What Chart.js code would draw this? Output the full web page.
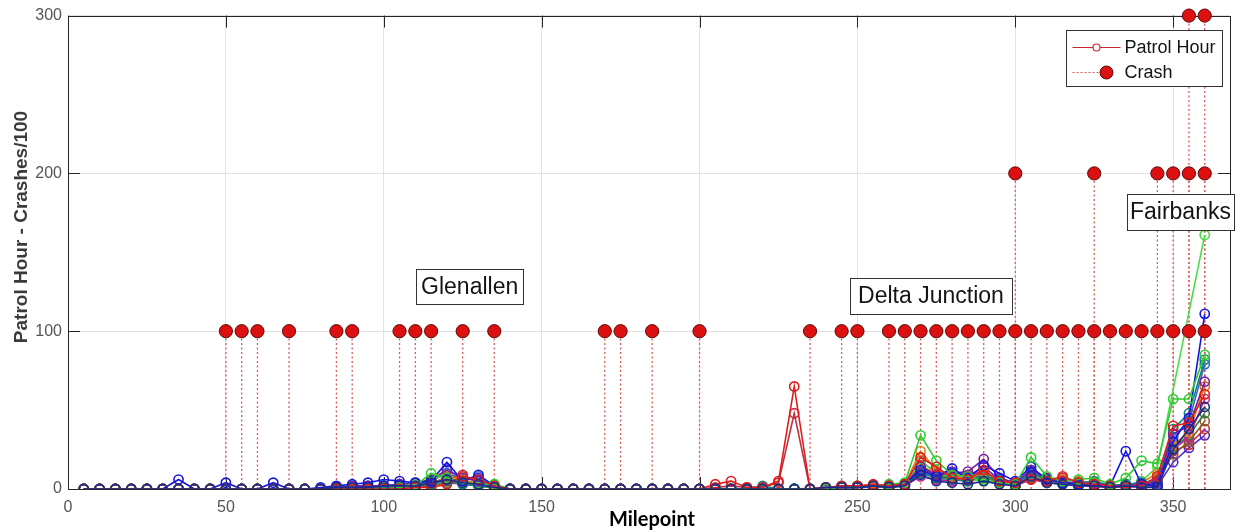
<!DOCTYPE html>
<html>
<head>
<meta charset="utf-8">
<script src="https://cdn.jsdelivr.net/npm/chart.js@4.4.1/dist/chart.umd.min.js"></script>
<style>
  html, body { margin: 0; padding: 0; background: #fff; }
  canvas { display: block; }
</style>
</head>
<body>
<canvas id="chart" width="1243" height="531"></canvas>
<script>
// Milepoints at which patrol hours were tallied
const milepoints = [5,10,15,20,25,30,35,40,45,50,55,60,65,70,75,80,85,90,95,100,105,110,115,120,
  125,130,135,140,145,150,155,160,165,170,175,180,185,190,195,200,205,210,215,220,225,230,235,240,
  245,250,255,260,265,270,275,280,285,290,295,300,305,310,315,320,325,330,335,340,345,350,355,360];

// Patrol hours per milepoint, one array per period
const patrolNavy = [0,0,0,0,0,0,0,0,0,0,0,0, 0,0,0,0,1,1,1,2,2,2,4,6, 4,3,1,0,0,0,0,0,0,0,0,0, 0,0,0,0,0,0,0,0,0,0,0,1, 1,1,2,1,2,9,5,4,3,5,3,2, 8,4,3,2,2,1,2,1,1,25,38,52];
const patrolRed = [0,0,0,0,0,0,0,0,0,0,0,0, 0,0,0,0,0,0,0,0,0,1,1,3, 8,6,2,0,0,0,0,0,0,0,0,0, 0,0,0,0,3,5,1,1,5,65,0,1, 2,2,3,2,3,20,14,7,6,12,5,4, 6,5,8,4,3,2,1,2,8,40,42,60];
const patrolGreen = [0,0,0,0,0,0,0,0,0,0,0,0, 0,0,0,0,0,0,0,0,1,2,10,7, 4,3,3,0,0,0,0,0,0,0,0,0, 0,0,0,0,0,0,0,0,0,0,0,0, 1,2,2,3,4,34,18,9,8,5,4,3, 20,8,5,6,7,3,7,18,16,57,57,85];
const patrolBlue = [0,0,0,0,0,0,6,0,0,4,0,0, 4,0,0,1,2,3,4,6,5,4,5,17, 5,9,2,0,0,0,0,0,0,0,0,0, 0,0,0,0,0,0,0,0,0,0,0,0, 1,1,2,2,3,12,8,13,7,15,10,5, 14,6,4,3,2,2,24,3,2,30,45,111];
const patrolPurple = [0,0,0,0,0,0,0,0,0,0,0,0, 0,0,0,0,1,2,2,2,3,4,6,12, 7,5,1,0,0,0,0,0,0,0,0,0, 0,0,0,0,0,0,0,0,0,0,0,0, 1,2,2,2,3,14,9,10,11,19,7,4, 12,7,5,3,4,2,2,3,4,35,40,68];
const patrolTeal = [0,0,0,0,0,0,0,0,0,0,0,0, 0,0,0,0,1,1,1,1,1,2,3,5, 3,2,1,0,0,0,0,0,0,0,0,0, 0,0,0,0,0,0,0,2,0,0,0,0, 2,1,2,1,2,10,7,6,5,8,6,3, 10,6,4,4,5,2,3,4,5,38,48,82];
const patrolOrange = [0,0,0,0,0,0,0,0,0,0,0,0, 0,0,0,0,0,1,1,1,2,2,3,8, 6,3,1,0,0,0,0,0,0,0,0,0, 0,0,0,0,0,0,0,0,0,0,0,0, 1,2,1,2,3,24,12,8,7,10,5,3, 8,5,6,5,3,2,2,4,10,28,36,65];
const patrolLime = [0,0,0,0,0,0,0,0,0,0,0,0, 0,0,0,0,0,0,1,1,2,3,6,9, 5,4,3,0,0,0,0,0,0,0,0,0, 0,0,0,0,0,0,0,0,0,0,0,0, 1,1,2,2,3,17,11,7,5,6,4,2, 9,4,3,3,4,1,2,5,14,null,null,161];
const patrolMagenta = [0,0,0,0,0,0,0,0,0,0,0,0, 0,0,0,0,1,1,1,1,2,2,4,7, 5,3,1,0,0,0,0,0,0,0,0,0, 0,0,0,0,0,0,0,0,0,0,0,0, 1,1,1,2,2,8,6,5,9,11,4,2, 6,4,3,2,2,1,2,2,6,25,33,57];
const patrolForest = [0,0,0,0,0,0,0,0,0,0,0,0, 0,0,0,0,0,1,1,1,2,2,4,6, 4,2,1,0,0,0,0,0,0,0,0,0, 0,0,0,0,0,0,0,0,0,0,0,0, 1,2,2,2,3,12,8,7,6,7,4,3, 9,5,4,3,2,2,3,3,5,26,34,48];
const patrolBrown = [0,0,0,0,0,0,0,0,0,0,0,0, 0,0,0,0,0,0,0,1,1,1,2,4, 3,2,1,0,0,0,0,0,0,0,0,0, 0,0,0,0,0,0,0,0,0,0,0,0, 1,1,2,1,2,15,9,6,8,9,4,2, 7,4,5,3,2,1,2,3,7,22,30,43];
const patrolSteel = [0,0,0,0,0,0,0,0,0,0,0,0, 0,0,0,0,1,1,2,2,3,3,4,13, 6,8,1,0,0,0,0,0,0,0,0,0, 0,0,0,0,0,0,0,0,0,0,0,0, 1,1,2,2,3,11,7,9,6,9,5,3, 12,6,4,3,3,2,3,3,3,33,43,79];
const patrolCrimson = [0,0,0,0,0,0,0,0,0,0,0,0, 0,0,0,0,0,0,1,1,1,2,3,6, 9,4,1,0,0,0,0,0,0,0,0,0, 0,0,0,0,1,2,1,1,4,48,0,1, 1,1,2,2,2,18,10,6,5,9,4,2, 7,4,7,4,3,1,2,2,7,24,28,38];
const patrolIndigo = [0,0,0,0,0,0,0,0,0,0,0,0, 0,0,0,0,1,1,2,2,3,3,5,10, 6,7,2,0,0,0,0,0,0,0,0,0, 0,0,0,0,0,0,0,0,0,0,0,0, 1,1,2,2,3,13,9,11,8,14,6,3, 11,6,4,3,3,2,3,2,2,17,26,34];

// Crashes (per 100) at each milepoint
const crashMiles = [50,55,60,70,85,90,105,110,115,125,135,170,175,185,200,235,245,250,260,265,270,275,280,285,290,295,300,305,310,315,320,325,330,335,340,345,350,355,360,
  300,325,345,350,355,360, 355,360];
const crashValues = [100,100,100,100,100,100,100,100,100,100,100,100,100,100,100,100,100,100,100,100,100,100,100,100,100,100,100,100,100,100,100,100,100,100,100,100,100,100,100,
  200,200,200,200,200,200, 300,300];

const xTicks = [0,50,100,150,200,250,300,350];
const yTicks = [0,100,200,300];
const placeNames = ['Glenallen', 'Delta Junction', 'Fairbanks'];
const legendLabels = ['Patrol Hour', 'Crash'];
const xTitle = 'Milepoint';
const yTitle = 'Patrol Hour - Crashes/100';

const patrolSeries = [patrolNavy, patrolRed, patrolGreen, patrolBlue, patrolPurple, patrolTeal, patrolOrange,
  patrolLime, patrolMagenta, patrolForest, patrolBrown, patrolSteel, patrolCrimson, patrolIndigo];
const patrolColors = ['#1c2a8c', '#e01b1b', '#2fcc2f', '#1515e0', '#7a1fa0', '#16807f', '#e07a16',
  '#49dd49', '#c2268e', '#2b7f3c', '#8c5a28', '#2f68cf', '#c42f3e', '#4b2bd0'];

const patrolDatasets = patrolSeries.map((vals, i) => ({
  type: 'line',
  label: 'Patrol Hour ' + (i + 1),
  data: milepoints.map((m, k) => ({ x: m, y: vals[k] })),
  borderColor: patrolColors[i],
  borderWidth: 1.6,
  pointRadius: 4.6,
  pointBorderWidth: 1.6,
  pointBorderColor: patrolColors[i],
  pointBackgroundColor: 'rgba(0,0,0,0)',
  pointStyle: 'circle',
  tension: 0,
  spanGaps: true,
  order: i + 1
}));

// one dotted stem per crash, from the baseline up to its marker
const stemDatasets = crashMiles.map((m, i) => ({
  type: 'line',
  label: 'Crash stem ' + (i + 1),
  data: [{ x: m, y: 0 }, { x: m, y: crashValues[i] }],
  borderColor: '#de5a5a',
  borderWidth: 1.3,
  borderDash: [2, 2.5],
  pointRadius: 0,
  order: 40
}));

const crashDataset = {
  type: 'scatter',
  label: 'Crash',
  data: crashMiles.map((m, i) => ({ x: m, y: crashValues[i] })),
  showLine: false,
  pointRadius: 6.6,
  pointBackgroundColor: '#dc1010',
  pointBorderColor: '#5c0a0a',
  pointBorderWidth: 1,
  clip: false,
  order: 0
};

const FONT = "'Liberation Sans', Arial, sans-serif";

const decor = {
  id: 'decor',
  beforeDatasetsDraw(chart) {
    const { ctx, chartArea: a, scales: { x, y } } = chart;
    ctx.save();
    ctx.strokeStyle = '#262626';
    ctx.lineWidth = 1;
    ctx.beginPath();
    xTicks.forEach(v => {
      const px = Math.round(x.getPixelForValue(v)) + 0.5;
      ctx.moveTo(px, a.bottom); ctx.lineTo(px, a.bottom - 12);
      ctx.moveTo(px, a.top); ctx.lineTo(px, a.top + 12);
    });
    yTicks.forEach(v => {
      const py = Math.round(y.getPixelForValue(v)) + 0.5;
      ctx.moveTo(a.left, py); ctx.lineTo(a.left + 12, py);
      ctx.moveTo(a.right, py); ctx.lineTo(a.right - 12, py);
    });
    ctx.stroke();
    ctx.strokeRect(Math.round(a.left) + 0.5, Math.round(a.top) + 0.5,
      Math.round(a.right - a.left), Math.round(a.bottom - a.top));
    ctx.restore();
  },
  afterDatasetsDraw(chart) {
    const { ctx, chartArea: a, scales: { x, y } } = chart;
    ctx.save();
    // place-name boxes
    const notes = [
      { text: placeNames[0], mx: 127.2, my: 128.5, w: 107, h: 35 },
      { text: placeNames[1], mx: 273.3, my: 122.5, w: 162, h: 36 },
      { text: placeNames[2], mx: 352.3, my: 175.6, w: 107, h: 36 }
    ];
    ctx.font = '23px ' + FONT;
    ctx.textAlign = 'center';
    ctx.textBaseline = 'middle';
    notes.forEach(n => {
      const cx = x.getPixelForValue(n.mx);
      const cy = y.getPixelForValue(n.my);
      const l = Math.round(cx - n.w / 2) + 0.5, t = Math.round(cy - n.h / 2) + 0.5;
      ctx.fillStyle = '#ffffff';
      ctx.fillRect(l, t, n.w, n.h);
      ctx.strokeStyle = '#333333';
      ctx.lineWidth = 1;
      ctx.strokeRect(l, t, n.w, n.h);
      ctx.fillStyle = '#141414';
      ctx.fillText(n.text, cx, cy + 1);
    });

    // legend
    const lw = 156, lh = 56;
    const lx = Math.round(a.right - 8 - lw) + 0.5, ly = Math.round(a.top + 14) + 0.5;
    ctx.fillStyle = '#ffffff';
    ctx.fillRect(lx, ly, lw, lh);
    ctx.strokeStyle = '#333333';
    ctx.strokeRect(lx, ly, lw, lh);
    const r1 = ly + 17, r2 = ly + 42;
    ctx.strokeStyle = '#c8282f';
    ctx.lineWidth = 1.2;
    ctx.beginPath();
    ctx.moveTo(lx + 6, r1); ctx.lineTo(lx + 54, r1);
    ctx.stroke();
    ctx.beginPath();
    ctx.arc(lx + 30, r1, 3.5, 0, Math.PI * 2);
    ctx.fillStyle = '#ffffff';
    ctx.fill();
    ctx.stroke();
    ctx.setLineDash([2, 2]);
    ctx.strokeStyle = '#de5a5a';
    ctx.lineWidth = 1.2;
    ctx.beginPath();
    ctx.moveTo(lx + 6, r2); ctx.lineTo(lx + 36, r2);
    ctx.stroke();
    ctx.setLineDash([]);
    ctx.beginPath();
    ctx.arc(lx + 40, r2, 6.5, 0, Math.PI * 2);
    ctx.fillStyle = '#dc1010';
    ctx.fill();
    ctx.strokeStyle = '#5c0a0a';
    ctx.lineWidth = 1;
    ctx.stroke();
    ctx.font = '18px ' + FONT;
    ctx.textAlign = 'left';
    ctx.textBaseline = 'middle';
    ctx.fillStyle = '#141414';
    ctx.fillText(legendLabels[0], lx + 58, r1 + 1);
    ctx.fillText(legendLabels[1], lx + 58, r2 + 1);
    ctx.restore();
  },
  afterDraw(chart) {
    const { ctx, chartArea: a } = chart;
    ctx.save();
    // x-axis title on its own white label box
    const cx = (a.left + a.right) / 2 + 3;
    ctx.fillStyle = '#ffffff';
    ctx.fillRect(cx - 88, a.bottom + 7, 176, 42);
    ctx.font = "bold 20px Lato, 'Open Sans', sans-serif";
    ctx.textAlign = 'center';
    ctx.textBaseline = 'alphabetic';
    ctx.fillStyle = '#000000';
    ctx.fillText(xTitle, cx, 526);
    // y-axis title
    ctx.translate(27, 227);
    ctx.rotate(-Math.PI / 2);
    ctx.font = 'bold 19px ' + FONT;
    ctx.fillStyle = '#3a3a3a';
    ctx.textBaseline = 'alphabetic';
    ctx.fillText(yTitle, 0, 0);
    ctx.restore();
  }
};

Chart.defaults.font.family = FONT;

new Chart(document.getElementById('chart'), {
  type: 'line',
  data: { datasets: [crashDataset, ...patrolDatasets, ...stemDatasets] },
  options: {
    responsive: false,
    animation: false,
    devicePixelRatio: 1,
    events: [],
    layout: { padding: { left: 0, right: 13, top: 14, bottom: 0 } },
    plugins: { legend: { display: false }, tooltip: { enabled: false } },
    scales: {
      x: {
        type: 'linear',
        min: 0,
        max: 368,
        afterBuildTicks: s => { s.ticks = xTicks.map(v => ({ value: v })); },
        afterFit: s => { s.height = 42; },
        ticks: { color: '#555555', font: { size: 16 }, padding: 9, autoSkip: false, maxRotation: 0 },
        grid: { color: '#e2e2e2', lineWidth: 1, drawTicks: false },
        border: { display: false }
      },
      y: {
        type: 'linear',
        min: 0,
        max: 300,
        afterBuildTicks: s => { s.ticks = yTicks.map(v => ({ value: v })); },
        afterFit: s => { s.width = 68; },
        ticks: { color: '#555555', font: { size: 16 }, padding: 6 },
        grid: { color: '#e2e2e2', lineWidth: 1, drawTicks: false },
        border: { display: false }
      }
    }
  },
  plugins: [decor]
});
</script>
</body>
</html>
